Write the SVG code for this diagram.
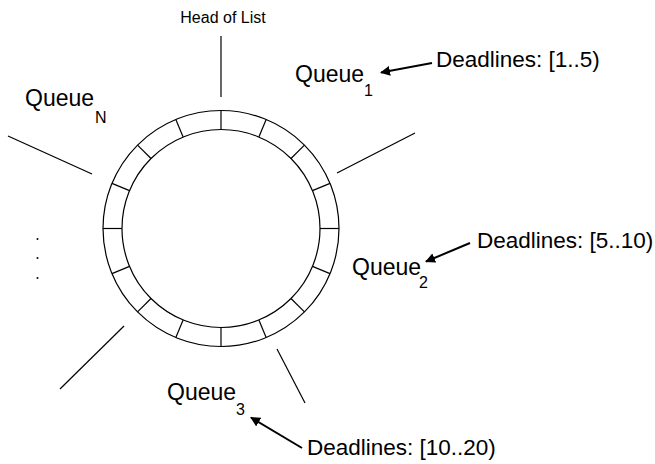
<svg xmlns="http://www.w3.org/2000/svg" xmlns:xlink="http://www.w3.org/1999/xlink" width="655" height="464" viewBox="0 0 655 464">
<style>
.t{font-family:"Liberation Sans",Arial,sans-serif;fill:#000}
.ln{stroke:#000;stroke-width:1.2;fill:none}
.ar{stroke:#000;stroke-width:2;fill:none}
</style>
<defs>
<marker id="ah" viewBox="0 0 10 10" refX="9" refY="5" markerWidth="5" markerHeight="5" orient="auto" markerUnits="strokeWidth">
<path d="M0,0 L10,5 L0,10 z" fill="#000"/>
</marker>
<line id="div" x1="221" y1="110.5" x2="221" y2="129.5" stroke="#000" stroke-width="1.2"/>
</defs>
<rect width="655" height="464" fill="#fff"/>
<g id="ring">
<circle class="ln" cx="221" cy="228.5" r="118"/>
<circle class="ln" cx="221" cy="228.5" r="99"/>
<use xlink:href="#div"/>
<use xlink:href="#div" transform="rotate(22.5 221 228.5)"/>
<use xlink:href="#div" transform="rotate(45 221 228.5)"/>
<use xlink:href="#div" transform="rotate(67.5 221 228.5)"/>
<use xlink:href="#div" transform="rotate(90 221 228.5)"/>
<use xlink:href="#div" transform="rotate(112.5 221 228.5)"/>
<use xlink:href="#div" transform="rotate(135 221 228.5)"/>
<use xlink:href="#div" transform="rotate(157.5 221 228.5)"/>
<use xlink:href="#div" transform="rotate(180 221 228.5)"/>
<use xlink:href="#div" transform="rotate(202.5 221 228.5)"/>
<use xlink:href="#div" transform="rotate(225 221 228.5)"/>
<use xlink:href="#div" transform="rotate(247.5 221 228.5)"/>
<use xlink:href="#div" transform="rotate(270 221 228.5)"/>
<use xlink:href="#div" transform="rotate(292.5 221 228.5)"/>
<use xlink:href="#div" transform="rotate(315 221 228.5)"/>
<use xlink:href="#div" transform="rotate(337.5 221 228.5)"/>
</g>
<g id="spokes">
<line class="ln" x1="221" y1="36" x2="221" y2="97"/>
<line class="ln" x1="337" y1="173" x2="415" y2="133"/>
<line class="ln" x1="277" y1="349" x2="305" y2="403"/>
<line class="ln" x1="124" y1="326" x2="60" y2="389"/>
<line class="ln" x1="92" y1="174" x2="8" y2="136"/>
</g>
<g id="dots" fill="#000">
<circle cx="37.5" cy="239" r="1"/>
<circle cx="37.5" cy="258" r="1"/>
<circle cx="37.5" cy="278" r="1"/>
</g>
<g id="head"><text class="t" x="223" y="23" font-size="16" text-anchor="middle">Head of List</text></g>
<g id="queue1"><text class="t" x="295" y="82" font-size="23">Queue</text><text class="t" x="364" y="96" font-size="16">1</text></g>
<g id="queueN"><text class="t" x="25" y="106" font-size="23">Queue</text><text class="t" x="95" y="123" font-size="16">N</text></g>
<g id="queue2"><text class="t" x="352" y="275" font-size="23">Queue</text><text class="t" x="419" y="288" font-size="16">2</text></g>
<g id="queue3"><text class="t" x="167" y="400" font-size="23">Queue</text><text class="t" x="236" y="415" font-size="16">3</text></g>
<g id="dl1"><text class="t" x="436" y="67" font-size="22.5">Deadlines: [1..5)</text></g>
<g id="dl2"><text class="t" x="477" y="248" font-size="22.5">Deadlines: [5..10)</text></g>
<g id="dl3"><text class="t" x="307" y="455" font-size="22.5">Deadlines: [10..20)</text></g>
<g id="connectors">
<line class="ar" x1="432" y1="63" x2="381" y2="72.5" marker-end="url(#ah)"/>
<line class="ar" x1="470" y1="243" x2="426" y2="261.5" marker-end="url(#ah)"/>
<line class="ar" x1="302" y1="448" x2="251" y2="417.5" marker-end="url(#ah)"/>
</g>
</svg>
